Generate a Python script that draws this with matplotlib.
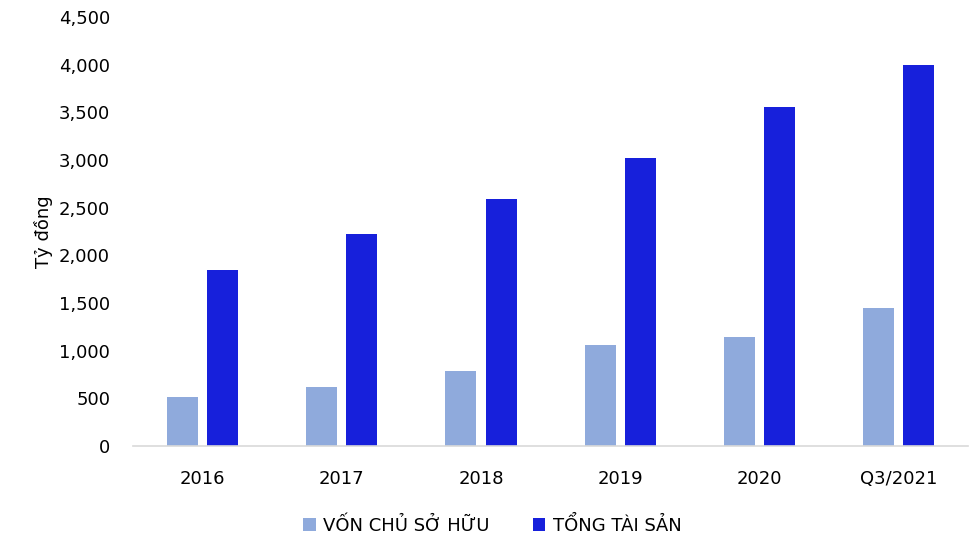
import numpy as np
import matplotlib.pyplot as plt
from matplotlib.ticker import FuncFormatter

categories = ['2016', '2017', '2018', '2019', '2020', 'Q3/2021']
von_chu_so_huu = [515, 620, 790, 1062, 1145, 1450]
tong_tai_san = [1848, 2226, 2593, 3024, 3557, 3998]

plt.rcParams['font.family'] = ['DejaVu Sans']

fig = plt.figure(figsize=(9.8, 5.41), dpi=100)
ax = fig.add_axes([0.1357, 0.1756, 0.8523, 0.793])

x = np.arange(len(categories))
w = 0.223
off = 0.144
ax.bar(x - off, von_chu_so_huu, width=w, color='#8FAADC', label='VỐN CHỦ SỞ HỮU')
ax.bar(x + off, tong_tai_san, width=w, color='#1720DB', label='TỔNG TÀI SẢN')

ax.set_xlim(-0.5, len(categories) - 0.5)
ax.set_ylim(0, 4500)
ax.set_yticks(np.arange(0, 4501, 500))
ax.yaxis.set_major_formatter(FuncFormatter(lambda v, p: f'{int(v):,}'))
ax.set_xticks(x)
ax.set_xticklabels(categories)

for s in ['top', 'right', 'left']:
    ax.spines[s].set_visible(False)
ax.spines['bottom'].set_color('#D9D9D9')
ax.spines['bottom'].set_linewidth(1.2)
ax.tick_params(axis='both', length=0, labelsize=13, colors='black')
ax.tick_params(axis='y', pad=16.5)
ax.tick_params(axis='x', pad=17)

ax.set_ylabel('Tỷ đồng', fontsize=13, labelpad=4)

ax.legend(loc='upper center', bbox_to_anchor=(0.43, -0.125), ncol=2, frameon=False,
          fontsize=13, handlelength=0.7, handleheight=0.7, handletextpad=0.4,
          columnspacing=2.4)

fig.savefig('out.png', dpi=100)
